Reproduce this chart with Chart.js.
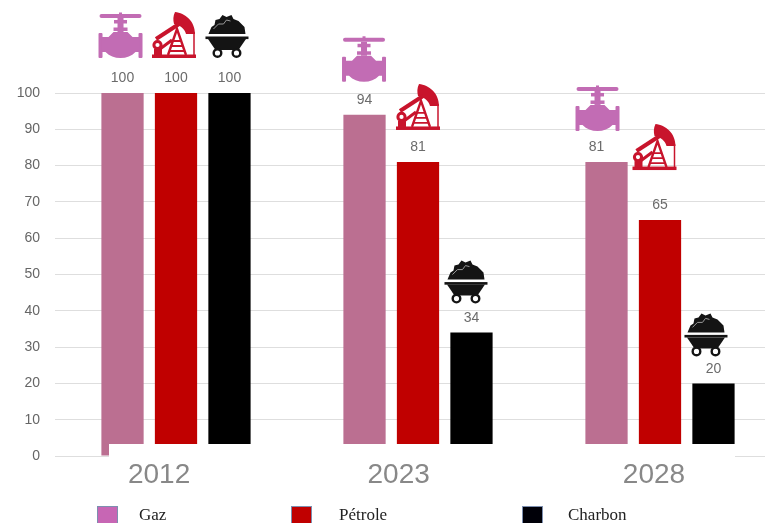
<!DOCTYPE html>
<html lang="fr"><head><meta charset="utf-8">
<style>
html,body{margin:0;padding:0;width:765px;height:523px;overflow:hidden;background:#fff}
#wrap{position:relative;width:765px;height:523px;overflow:hidden}
canvas{position:absolute;left:0;top:0}
.sw{position:absolute;top:506px;width:19px;height:20px;border:1px solid #7d8fb0;box-sizing:content-box}
.lb{position:absolute;top:505px;font:17px "Liberation Serif",serif;color:#222;line-height:20px}
</style>
<script src="https://cdn.jsdelivr.net/npm/chart.js@4"></script>
</head><body><div id="wrap"><canvas id="c" width="781" height="523"></canvas></div>
<script>
const categories = ['2012','2023','2028'];
const gaz = [100,94,81];
const petrole = [100,81,65];
const charbon = [100,34,20];
const seriesNames = ['Gaz','Pétrole','Charbon'];
const yTicks = [0,10,20,30,40,50,60,70,80,90,100];
const barColors = ['#BB6F91','#C00000','#000000'];
const swatchColors = ['#C766B4','#C00000','#000008'];

const legendSw = [97,291,522], legendTx = [139,339,568];
const wrap = document.getElementById('wrap');
seriesNames.forEach((n,i)=>{
  const s=document.createElement('div');s.className='sw';s.style.left=legendSw[i]+'px';s.style.background=swatchColors[i];wrap.appendChild(s);
  const t=document.createElement('div');t.className='lb';t.style.left=legendTx[i]+'px';t.textContent=n;wrap.appendChild(t);
});

function valve(g){
  g.fillStyle='#C26CB4';
  g.beginPath();g.roundRect(1,2,42,4,2);g.fill();
  g.fillRect(20.5,0.5,3,2);
  g.fillRect(19,6,6,14);
  g.fillRect(15.5,8,13,3.5);
  g.fillRect(15,15.5,14,3.5);
  g.beginPath();g.roundRect(0,21,4,25,1);g.fill();
  g.beginPath();g.roundRect(40,21,4,25,1);g.fill();
  g.beginPath();g.moveTo(3,25);g.lineTo(10,25);g.lineTo(15,20);g.lineTo(29,20);g.lineTo(34,25);g.lineTo(41,25);
  g.lineTo(41,40);g.lineTo(37,40);g.bezierCurveTo(33,44,28,46,22,46);g.bezierCurveTo(16,46,11,44,7,40);g.lineTo(3,40);g.closePath();g.fill();
}
function pump(g){
  g.fillStyle=g.strokeStyle='#C8142C';
  g.fillRect(0,42.5,44,3.5);
  // horse head
  g.beginPath();g.moveTo(23,0);g.bezierCurveTo(33,1,43,9,43,22);g.lineTo(34,22);
  g.bezierCurveTo(33,17,28,13,22,12);g.bezierCurveTo(21,8,21,4,23,0);g.fill();
  g.lineWidth=1.5;g.beginPath();g.moveTo(42,20);g.lineTo(42,43);g.stroke();
  // beam
  g.lineWidth=4;g.beginPath();g.moveTo(27,12);g.lineTo(4,27);g.stroke();
  // tower
  g.lineWidth=2.4;g.beginPath();g.moveTo(16,43);g.lineTo(25,17);g.lineTo(34,43);g.stroke();
  g.lineWidth=1.8;g.beginPath();g.moveTo(21,29);g.lineTo(29,29);g.moveTo(19,34);g.lineTo(31,34);g.moveTo(17.5,39);g.lineTo(32.5,39);g.stroke();
  // motor
  g.lineWidth=3;g.beginPath();g.arc(5.5,33,3.6,0,Math.PI*2);g.stroke();
  g.fillRect(2,37,8,6);
  g.lineWidth=3;g.beginPath();g.moveTo(8,37);g.lineTo(20,28);g.stroke();
}
function cart(g){
  g.fillStyle='#141414';
  g.beginPath();g.moveTo(3,22);g.lineTo(6,15);g.lineTo(9,13);g.lineTo(10,8);g.lineTo(14,7);g.lineTo(17,3);g.lineTo(21,5);g.lineTo(26,3);g.lineTo(28,7);g.lineTo(33,9);g.lineTo(36,12);g.lineTo(39,15);g.lineTo(40,22);g.closePath();g.fill();
  g.strokeStyle='#9a9a9a';g.lineWidth=1;g.beginPath();g.moveTo(8,17);g.lineTo(13,12);g.lineTo(18,12);g.lineTo(21,8);g.lineTo(25,9);g.stroke();
  g.fillRect(0,24.5,43,2.6);
  g.beginPath();g.moveTo(2.5,27);g.lineTo(40.5,27);g.lineTo(33,38);g.lineTo(10,38);g.closePath();g.fill();
  g.lineWidth=2.4;g.strokeStyle='#141414';
  [12,31].forEach(x=>{g.beginPath();g.arc(x,41,3.8,0,Math.PI*2);g.stroke();});
}
const iconDraw=[valve,pump,cart];
const iconDx=[[-2,-0.5,-9],[-2,0,-5.5],[-2.5,-5.5,-7.5]];
const iconLift=[[35,33,31],[35,32,50],[35,29,27]];
const labelDx=[[0,0,-10],[0,0,0],[0,0,0]];

const overlay={id:'overlay',
  afterDatasetsDraw(chart){
    const g=chart.ctx;
    g.save();g.fillStyle='#fff';g.fillRect(109,444,626,16);g.restore();
    chart.data.datasets.forEach((ds,i)=>{
      chart.getDatasetMeta(i).data.forEach((bar,j)=>{
        g.save();
        g.fillStyle='#6b6b6b';g.font='14px "Liberation Sans",sans-serif';g.textAlign='center';g.textBaseline='middle';
        g.fillText(String(ds.data[j]),bar.x+labelDx[i][j],bar.y-14.5);
        const w=i===2?43:44;
        g.translate(bar.x+iconDx[i][j]-w/2,bar.y-iconLift[i][j]-46);
        g.filter='blur(0.4px)';
        iconDraw[i](g);
        g.restore();
      });
    });
  }};

new Chart(document.getElementById('c'),{
  type:'bar',
  data:{labels:categories,datasets:[
    {label:seriesNames[0],data:gaz,backgroundColor:barColors[0]},
    {label:seriesNames[1],data:petrole,backgroundColor:barColors[1]},
    {label:seriesNames[2],data:charbon,backgroundColor:barColors[2]}
  ]},
  options:{
    responsive:false,animation:false,
    layout:{padding:{top:93,left:0,right:0,bottom:0}},
    plugins:{legend:{display:false},tooltip:{enabled:false}},
    datasets:{bar:{barPercentage:0.79,categoryPercentage:0.663}},
    scales:{
      x:{display:false},
      xYear:{type:'linear',position:'bottom',min:-0.5,max:2.5,offset:false,
        afterBuildTicks(a){a.ticks=[-0.07,-0.08,-0.025].map((d,i)=>({value:i+d}));},
        afterFit(a){a.height=67;},
        grid:{display:false},border:{display:false},
        ticks:{autoSkip:false,maxRotation:0,padding:-6,color:'#888888',
          font:{family:'"Liberation Sans",sans-serif',size:28},
          callback:(v,i)=>categories[i]}},
      y:{min:0,max:100,
        afterBuildTicks(a){a.ticks=yTicks.map(v=>({value:v}));},
        afterFit(a){a.width=55;},
        grid:{color:'#dedede',lineWidth:1,drawTicks:false},border:{display:false},
        ticks:{padding:15,color:'#666666',font:{family:'"Liberation Sans",sans-serif',size:14}}}
    }
  },
  plugins:[overlay]
});
</script></body></html>
